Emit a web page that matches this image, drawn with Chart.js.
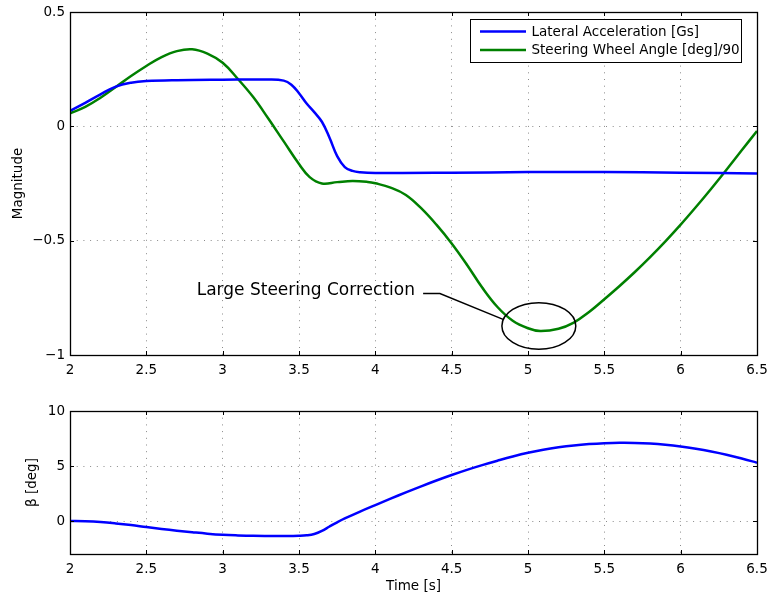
<!DOCTYPE html>
<html>
<head>
<meta charset="utf-8">
<script src="https://cdn.jsdelivr.net/npm/chart.js@4.4.1/dist/chart.umd.min.js"></script>
<style>
  html, body { margin: 0; padding: 0; background: #fff; }
  #wrap { position: relative; width: 769px; height: 598px; }
  canvas { position: absolute; left: 0; }
  #topChart { top: 0; }
  #bottomChart { top: 380px; }
</style>
</head>
<body>
<div id="wrap">
  <canvas id="topChart" width="769" height="380"></canvas>
  <canvas id="bottomChart" width="769" height="218"></canvas>
</div>
<script>
// ---- data ----
const tLat = [2.0, 2.1, 2.2, 2.3, 2.4, 2.5, 2.7, 3.0, 3.3, 3.4, 3.45, 3.5, 3.55, 3.6, 3.65, 3.7, 3.75, 3.8, 3.85, 3.9, 4.0, 4.5, 5.0, 5.5, 6.0, 6.5];
const latAcc = [0.067, 0.103, 0.14, 0.174, 0.191, 0.198, 0.202, 0.204, 0.205, 0.2, 0.182, 0.145, 0.1, 0.062, 0.02, -0.05, -0.13, -0.178, -0.195, -0.201, -0.204, -0.203, -0.2, -0.2, -0.203, -0.206];

const tSteer = [2.0, 2.1, 2.2, 2.3, 2.4, 2.5, 2.6, 2.7, 2.8, 2.9, 3.0, 3.1, 3.2, 3.3, 3.4, 3.5, 3.57, 3.65, 3.75, 3.85, 3.95, 4.0, 4.1, 4.2, 4.3, 4.4, 4.5, 4.6, 4.7, 4.8, 4.9, 5.0, 5.08, 5.2, 5.3, 5.4, 5.5, 5.6, 5.7, 5.8, 5.9, 6.0, 6.1, 6.2, 6.3, 6.4, 6.5];
const steerAngle = [0.057, 0.085, 0.125, 0.172, 0.22, 0.264, 0.303, 0.329, 0.337, 0.318, 0.278, 0.207, 0.128, 0.033, -0.066, -0.165, -0.222, -0.25, -0.244, -0.239, -0.243, -0.249, -0.268, -0.3, -0.358, -0.43, -0.512, -0.605, -0.705, -0.79, -0.85, -0.883, -0.895, -0.885, -0.858, -0.812, -0.756, -0.698, -0.637, -0.572, -0.503, -0.43, -0.353, -0.273, -0.19, -0.105, -0.02];

const tBeta = [2.0, 2.1, 2.2, 2.3, 2.4, 2.5, 2.6, 2.7, 2.8, 2.9, 3.0, 3.1, 3.2, 3.3, 3.4, 3.5, 3.55, 3.6, 3.65, 3.7, 3.75, 3.8, 3.9, 4.0, 4.1, 4.2, 4.3, 4.4, 4.5, 4.6, 4.7, 4.8, 4.9, 5.0, 5.1, 5.2, 5.3, 5.4, 5.5, 5.6, 5.7, 5.8, 5.9, 6.0, 6.1, 6.2, 6.3, 6.4, 6.5];
const beta = [0, -0.03, -0.1, -0.22, -0.37, -0.55, -0.72, -0.88, -1.02, -1.15, -1.25, -1.31, -1.35, -1.36, -1.36, -1.34, -1.3, -1.18, -0.9, -0.5, -0.12, 0.23, 0.86, 1.45, 2.03, 2.6, 3.15, 3.68, 4.18, 4.65, 5.08, 5.48, 5.86, 6.2, 6.48, 6.7, 6.87, 6.99, 7.07, 7.11, 7.1, 7.04, 6.93, 6.77, 6.56, 6.31, 6.02, 5.68, 5.3];

const xTicks = [2, 2.5, 3, 3.5, 4, 4.5, 5, 5.5, 6, 6.5];
const xTickLabels = ['2', '2.5', '3', '3.5', '4', '4.5', '5', '5.5', '6', '6.5'];
const topYTicks = [-1, -0.5, 0, 0.5];
const topYTickLabels = ['\u22121', '\u22120.5', '0', '0.5'];
const botYTicks = [0, 5, 10];
const botYTickLabels = ['0', '5', '10'];

const seriesLabels = ['Lateral Acceleration [Gs]', 'Steering Wheel Angle [deg]/90'];
const noteText = 'Large Steering Correction';

Chart.defaults.font.family = 'DejaVu Sans';
Chart.defaults.font.size = 13.5;
Chart.defaults.color = '#000';

function pts(xs, ys) {
  return xs.map((x, i) => ({ x: x, y: ys[i] }));
}

function pickLabel(list, labels) {
  return v => {
    const i = list.indexOf(v);
    return i >= 0 ? labels[i] : '';
  };
}

// black frame with matplotlib style inward ticks
const framePlugin = {
  id: 'frame',
  afterDraw(chart) {
    const ctx = chart.ctx;
    const a = chart.chartArea;
    const xs = chart.scales.x, ys = chart.scales.y;
    ctx.save();
    ctx.strokeStyle = '#000';
    ctx.lineWidth = 1;
    ctx.beginPath();
    xs.ticks.forEach(t => {
      const px = Math.round(xs.getPixelForValue(t.value)) + 0.5;
      ctx.moveTo(px, a.top); ctx.lineTo(px, a.top + 4);
      ctx.moveTo(px, a.bottom); ctx.lineTo(px, a.bottom - 4);
    });
    ys.ticks.forEach(t => {
      const py = Math.round(ys.getPixelForValue(t.value)) + 0.5;
      ctx.moveTo(a.left, py); ctx.lineTo(a.left + 4, py);
      ctx.moveTo(a.right, py); ctx.lineTo(a.right - 4, py);
    });
    ctx.stroke();
    ctx.lineWidth = 1.3;
    ctx.strokeRect(Math.round(a.left) + 0.5, Math.round(a.top) + 0.5,
      Math.round(a.right - a.left), Math.round(a.bottom - a.top));
    ctx.restore();
  }
};

const legendPlugin = {
  id: 'boxLegend',
  afterDraw(chart) {
    const ctx = chart.ctx;
    ctx.save();
    ctx.fillStyle = '#fff';
    ctx.fillRect(470.5, 19.5, 271, 43);
    ctx.strokeStyle = '#000';
    ctx.lineWidth = 1;
    ctx.strokeRect(470.5, 19.5, 271, 43);
    ctx.font = '13.5px "DejaVu Sans"';
    ctx.textBaseline = 'middle';
    chart.data.datasets.forEach((ds, i) => {
      const y = 31.5 + i * 18.5;
      ctx.strokeStyle = ds.borderColor;
      ctx.lineWidth = 2.5;
      ctx.beginPath();
      ctx.moveTo(480, y);
      ctx.lineTo(526, y);
      ctx.stroke();
      ctx.fillStyle = '#000';
      ctx.fillText(ds.label, 531.5, y + 0.5);
    });
    ctx.restore();
  }
};

const notePlugin = {
  id: 'note',
  afterDatasetsDraw(chart) {
    const ctx = chart.ctx;
    const xs = chart.scales.x, ys = chart.scales.y;
    const cx = xs.getPixelForValue(5.071), cy = ys.getPixelForValue(-0.873);
    const rx = xs.getPixelForValue(5.071 + 0.242) - cx;
    const ry = ys.getPixelForValue(-0.873 - 0.102) - cy;
    ctx.save();
    ctx.strokeStyle = '#000';
    ctx.lineWidth = 1.5;
    ctx.beginPath();
    ctx.ellipse(cx, cy, rx, ry, 0, 0, Math.PI * 2);
    ctx.stroke();
    ctx.beginPath();
    ctx.moveTo(xs.getPixelForValue(4.313), ys.getPixelForValue(-0.731));
    ctx.lineTo(xs.getPixelForValue(4.423), ys.getPixelForValue(-0.731));
    ctx.lineTo(xs.getPixelForValue(4.837), ys.getPixelForValue(-0.844));
    ctx.stroke();
    ctx.fillStyle = '#000';
    ctx.font = '17px "DejaVu Sans"';
    ctx.textBaseline = 'middle';
    ctx.fillText(noteText, xs.getPixelForValue(2.83), ys.getPixelForValue(-0.717));
    ctx.restore();
  }
};

function xAxis(boxHeight, tickPad, title) {
  return {
    type: 'linear',
    min: 2, max: 6.5,
    afterBuildTicks: s => { s.ticks = xTicks.map(v => ({ value: v })); },
    afterFit: s => { s.height = boxHeight; s.paddingLeft = 0; s.paddingRight = 0; },
    grid: { color: '#8a8a8a', lineWidth: 1, drawTicks: false },
    border: { display: false, dash: [1, 5.7] },
    ticks: { padding: tickPad, maxRotation: 0, autoSkip: false, callback: pickLabel(xTicks, xTickLabels) },
    title: title ? { display: true, text: title, padding: { top: 0, bottom: 3 } } : { display: false }
  };
}

function yAxis(min, max, ticks, labels, title, titlePad) {
  return {
    type: 'linear',
    min: min, max: max,
    afterBuildTicks: s => { s.ticks = ticks.map(v => ({ value: v })); },
    afterFit: s => { s.width = 70; s.paddingTop = 0; s.paddingBottom = 0; },
    grid: { color: '#8a8a8a', lineWidth: 1, drawTicks: false },
    border: { display: false, dash: [1, 5.7] },
    ticks: { padding: 5, autoSkip: false, callback: pickLabel(ticks, labels) },
    title: { display: true, text: title, padding: { top: titlePad, bottom: 0 } }
  };
}

const lineStyle = { borderWidth: 2.5, pointRadius: 0, tension: 0.4, fill: false };

new Chart(document.getElementById('topChart'), {
  type: 'line',
  data: {
    datasets: [
      Object.assign({ label: seriesLabels[0], data: pts(tLat, latAcc), borderColor: '#0000ff' }, lineStyle),
      Object.assign({ label: seriesLabels[1], data: pts(tSteer, steerAngle), borderColor: '#008000' }, lineStyle)
    ]
  },
  options: {
    responsive: false,
    animation: false,
    layout: { padding: { top: 12, right: 12, left: 0, bottom: 0 } },
    plugins: { legend: { display: false }, tooltip: { enabled: false } },
    scales: {
      x: xAxis(25, 7, null),
      y: yAxis(-1, 0.5, topYTicks, topYTickLabels, 'Magnitude', 10)
    }
  },
  plugins: [notePlugin, framePlugin, legendPlugin]
});

new Chart(document.getElementById('bottomChart'), {
  type: 'line',
  data: {
    datasets: [
      Object.assign({ label: '\u03b2', data: pts(tBeta, beta), borderColor: '#0000ff' }, lineStyle)
    ]
  },
  options: {
    responsive: false,
    animation: false,
    layout: { padding: { top: 31, right: 12, left: 0, bottom: 0 } },
    plugins: { legend: { display: false }, tooltip: { enabled: false } },
    scales: {
      x: xAxis(44, 7, 'Time [s]'),
      y: yAxis(-3, 10, botYTicks, botYTickLabels, '\u03b2 [deg]', 24)
    }
  },
  plugins: [framePlugin]
});
</script>
</body>
</html>
